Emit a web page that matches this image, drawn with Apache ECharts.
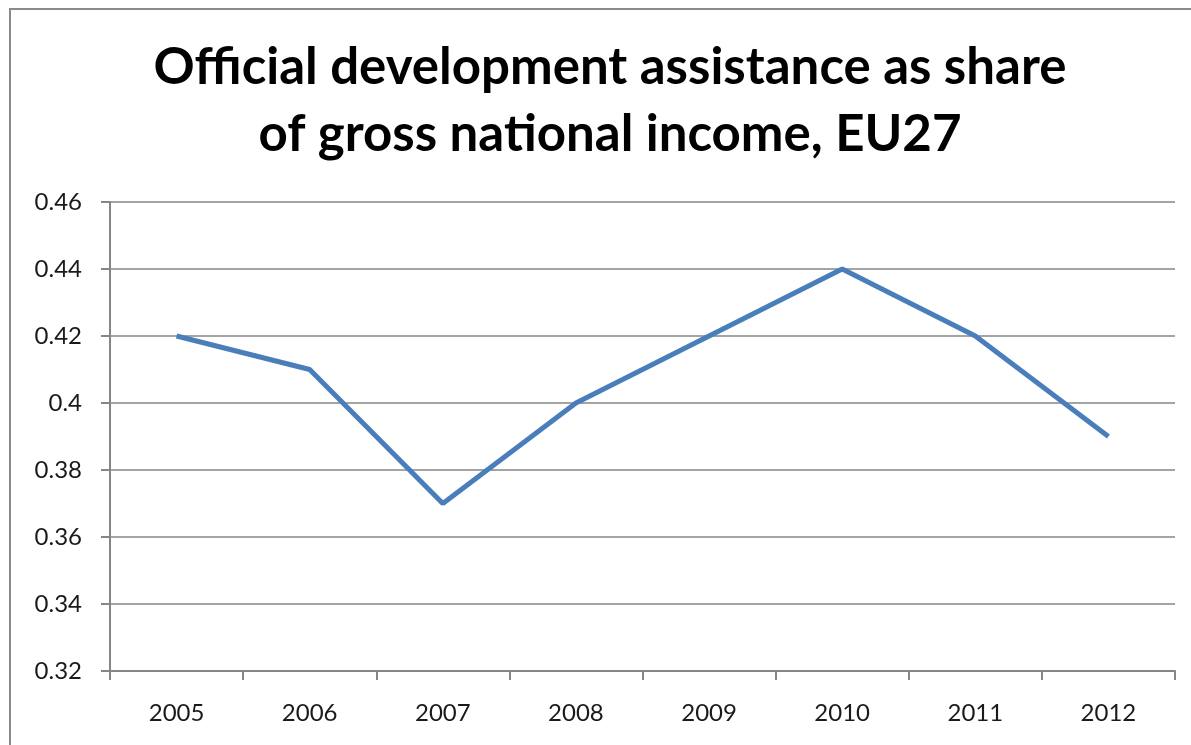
<!DOCTYPE html>
<html>
<head>
<meta charset="utf-8">
<script src="https://cdn.jsdelivr.net/npm/echarts@6/dist/echarts.min.js"></script>
<style>html,body{margin:0;padding:0;background:#fff}#c{width:1191px;height:745px}</style>
</head>
<body>
<div id="c"></div>
<script>
const titleLines = ['Official development assistance as share', 'of gross national income, EU27'];
const years = ['2005', '2006', '2007', '2008', '2009', '2010', '2011', '2012'];
const odaShare = [0.42, 0.41, 0.37, 0.40, 0.42, 0.44, 0.42, 0.39];
const yTicks = { min: 0.32, max: 0.46, interval: 0.02 };

const chart = echarts.init(document.getElementById('c'));
chart.setOption({
  backgroundColor: '#ffffff',
  animation: false,
  graphic: [
    { type: 'rect', shape: { x: 10, y: 9, width: 1300, height: 900 }, style: { fill: 'none', stroke: '#8a8a8a', lineWidth: 2 }, silent: true },
    { type: 'text', x: 610, y: 34, style: { text: titleLines.join('\n'), font: 'bold 51px Lato', lineHeight: 67, align: 'center', verticalAlign: 'top', fill: '#000' } }
  ],
  grid: { left: 110, right: 16, top: 202, bottom: 74, containLabel: false },
  xAxis: {
    type: 'category',
    data: years,
    boundaryGap: true,
    axisLine: { lineStyle: { color: '#868686', width: 2 } },
    axisTick: { show: true, length: 9, alignWithLabel: false, lineStyle: { color: '#868686', width: 2 } },
    axisLabel: { color: '#1a1a1a', fontSize: 24, fontFamily: 'Lato', margin: 30 }
  },
  yAxis: {
    type: 'value',
    min: yTicks.min, max: yTicks.max, interval: yTicks.interval,
    axisLine: { show: true, lineStyle: { color: '#868686', width: 2 } },
    axisTick: { show: true, length: 9, lineStyle: { color: '#868686', width: 2 } },
    splitLine: { lineStyle: { color: '#868686', width: 1.5 } },
    axisLabel: { color: '#1a1a1a', fontSize: 24, fontFamily: 'Lato', margin: 28,
      formatter: v => String(parseFloat(v.toFixed(2))) }
  },
  series: [{
    type: 'line',
    data: odaShare,
    symbol: 'none',
    lineStyle: { color: '#4a7ebb', width: 5 },
    itemStyle: { color: '#4a7ebb' }
  }]
});
</script>
</body>
</html>
